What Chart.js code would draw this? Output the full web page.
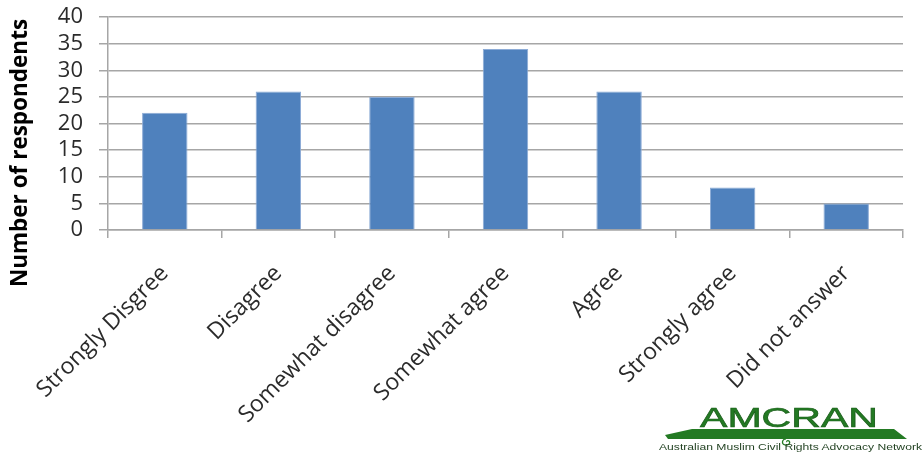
<!DOCTYPE html>
<html>
<head>
<meta charset="utf-8">
<script src="https://cdn.jsdelivr.net/npm/chart.js@4/dist/chart.umd.min.js"></script>
<style>
    html, body { margin: 0; padding: 0; background: #fff; }
    #wrap { position: relative; width: 922px; height: 454px; }
    #logo { position: absolute; left: 650px; top: 395px; }
</style>
</head>
<body>
<div id="wrap">
    <canvas id="chart" width="922" height="454"></canvas>
    <svg id="logo" width="272" height="59" viewBox="0 0 272 59">
        <text x="50" y="32" font-family="Liberation Sans, Arial" font-size="27"
              textLength="178" lengthAdjust="spacingAndGlyphs" fill="#237a23"
              stroke="#1b5e1b" stroke-width="0.6">AMCRAN</text>
        <polygon points="15,40 42,34 244,34 257,44 18,44" fill="#237a23" />
        <path d="M136,44 c-4,0 -5,5 -1,6 c3,1 6,-2 4,-4 c-1,-1 -3,0 -2,1" fill="none"
              stroke="#237a23" stroke-width="1.2" />
        <text x="9" y="55" font-family="Liberation Sans, Arial" font-size="9.5"
              textLength="263" lengthAdjust="spacingAndGlyphs" fill="#1f3f1f">Australian Muslim Civil Rights Advocacy Network</text>
    </svg>
</div>
<script>
const categories = [
    "Strongly Disgree",
    "Disagree",
    "Somewhat disagree",
    "Somewhat agree",
    "Agree",
    "Strongly agree",
    "Did not answer",
];
const respondents = [22, 26, 25, 34, 26, 8, 5];
const yTicks = [0, 5, 10, 15, 20, 25, 30, 35, 40];
const yTitle = "Number of respondents";

const axisGray = "#a6a6a6";
const labelColor = "#2b2b2b";

// y axis title, placed like the original (a bit lower than the plot centre)
const yTitlePlugin = {
    id: "yTitlePlugin",
    afterDraw(chart) {
        const { ctx } = chart;
        ctx.save();
        ctx.translate(21, 153);
        ctx.rotate(-Math.PI / 2);
        ctx.font = "bold 22.5px 'Open Sans'";
        ctx.fillStyle = "#000";
        ctx.textAlign = "center";
        ctx.textBaseline = "middle";
        ctx.fillText(yTitle, 0, 0);
        ctx.restore();
    },
};

new Chart(document.getElementById("chart"), {
    type: "bar",
    data: {
        labels: categories,
        datasets: [
            {
                data: respondents,
                backgroundColor: "#4f81bd",
                borderColor: "#8cabd6",
                borderWidth: 1,
                barPercentage: 0.4,
                categoryPercentage: 1,
            },
        ],
    },
    options: {
        responsive: false,
        animation: false,
        layout: {
            padding: { top: 17, right: 19, left: 0, bottom: 0 },
        },
        plugins: {
            legend: { display: false },
            tooltip: { enabled: false },
        },
        scales: {
            x: {
                afterFit(scale) {
                    scale.height = 224;
                    scale.paddingLeft = 0;
                    scale.paddingRight = 0;
                },
                grid: {
                    offset: true,
                    drawOnChartArea: false,
                    drawTicks: true,
                    tickLength: 8,
                    color: axisGray,
                    lineWidth: 1.5,
                },
                border: { color: axisGray, width: 1.5 },
                ticks: {
                    autoSkip: false,
                    maxRotation: 45,
                    minRotation: 45,
                    padding: 22,
                    color: labelColor,
                    font: { family: "'Open Sans'", size: 23 },
                },
            },
            y: {
                min: 0,
                max: 40,
                afterFit(scale) {
                    scale.width = 108;
                    scale.paddingTop = 0;
                    scale.paddingBottom = 0;
                },
                afterBuildTicks(scale) {
                    scale.ticks = yTicks.map((v) => ({ value: v }));
                },
                grid: {
                    color: axisGray,
                    lineWidth: 1.5,
                    tickLength: 9,
                },
                border: { color: axisGray, width: 1.5 },
                ticks: {
                    autoSkip: false,
                    padding: 16,
                    color: labelColor,
                    font: { family: "'Open Sans'", size: 22 },
                },
            },
        },
    },
    plugins: [yTitlePlugin],
});
</script>
</body>
</html>
